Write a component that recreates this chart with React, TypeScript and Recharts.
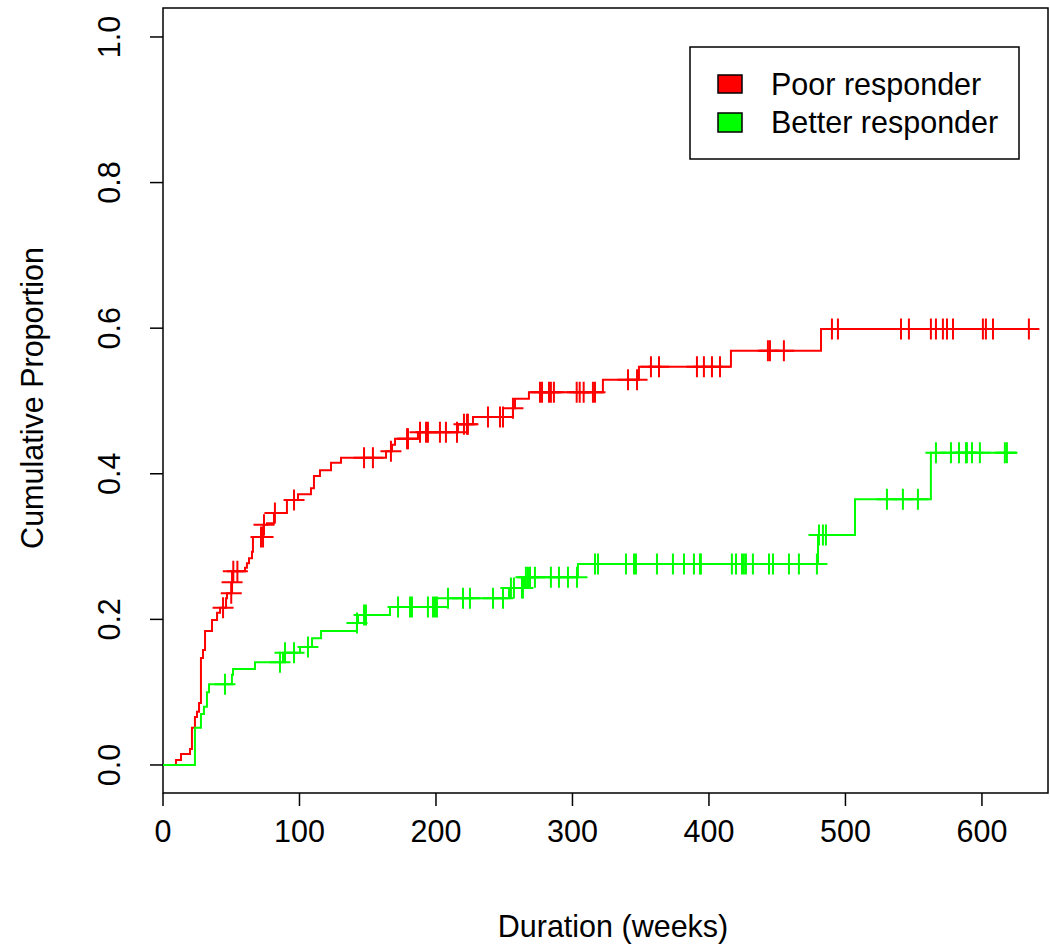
import { ComposedChart, Line, Scatter, XAxis, YAxis, ReferenceArea, Label } from "recharts"

// Kaplan-Meier style cumulative curves
const xTicks = [0, 100, 200, 300, 400, 500, 600]
const yTicks = [0, 0.2, 0.4, 0.6, 0.8, 1.0]

const poorStepTimes = [
  0, 9.5, 13.2, 19.8, 21.2, 23.4, 24.9, 26.4, 27.8, 29.3, 30.8, 35.9, 39.6, 41.8, 46.2, 46.9, 50.3,
  51.0, 60.1, 61.5, 63.0, 65.2, 65.9, 73.6, 76.2, 81.3, 90.8, 98.9, 108.4, 110.6, 115.0, 123.1,
  130.4, 163.4, 167.8, 170.0, 186.8, 216.1, 227.1, 256.4, 257.9, 268.1, 322.3, 348.7, 416.1, 482.1,
  641.8,
]
const poorStepValues = [
  0, 0.007, 0.015, 0.022, 0.051, 0.066, 0.073, 0.085, 0.147, 0.158, 0.184, 0.199, 0.209, 0.216,
  0.229, 0.236, 0.251, 0.266, 0.271, 0.277, 0.284, 0.293, 0.313, 0.33, 0.332, 0.346, 0.364, 0.372,
  0.38, 0.397, 0.405, 0.415, 0.422, 0.431, 0.44, 0.448, 0.457, 0.468, 0.478, 0.49, 0.503, 0.512,
  0.529, 0.547, 0.569, 0.599, 0.599,
]
const poorCensored = [
  44.0, 50.0, 50.6, 51.5, 54.5, 71.8, 73.3, 74.0, 82.0, 96.0, 147.3, 153.8, 167.0, 178.8, 179.5,
  188.3, 192.7, 194.1, 202.9, 207.3, 215.4, 220.5, 222.7, 223.4, 238.1, 246.9, 249.1, 256.4, 276.2,
  277.7, 282.8, 284.2, 286.4, 303.1, 305.3, 308.2, 315.0, 316.5, 340.7, 347.3, 357.5, 363.4, 391.2,
  396.3, 402.2, 408.1, 443.2, 444.7, 454.9, 490.1, 494.5, 540.7, 546.5, 562.6, 566.3, 571.4, 574.4,
  578.8, 600.7, 602.9, 608.1, 634.4,
]

const betterStepTimes = [
  0, 23.4, 27.8, 30.0, 32.2, 33.7, 50.5, 51.3, 67.4, 87.9, 100.4, 109.2, 115.8, 142.1, 142.9, 166.3,
  208.8, 253.5, 264.5, 304.0, 479.9, 507.0, 562.6, 625.6,
]
const betterStepValues = [
  0, 0.051, 0.07, 0.08, 0.1, 0.111, 0.124, 0.132, 0.141, 0.154, 0.162, 0.174, 0.184, 0.195, 0.206,
  0.217, 0.229, 0.243, 0.258, 0.276, 0.316, 0.365, 0.429, 0.429,
]
const betterCensored = [
  45.4, 85.7, 89.4, 96.0, 106.2, 142.1, 147.3, 148.7, 172.2, 181.0, 182.4, 194.1, 197.8, 199.3,
  200.7, 208.8, 219.8, 224.9, 241.8, 249.1, 254.9, 257.1, 263.0, 263.7, 265.9, 267.4, 268.9, 272.5,
  284.2, 290.1, 296.7, 303.3, 316.5, 318.7, 339.2, 345.1, 346.5, 361.9, 373.6, 381.7, 389.0, 393.4,
  394.1, 416.8, 419.8, 424.2, 425.6, 427.1, 432.2, 444.0, 446.9, 458.6, 465.9, 479.1, 480.6, 483.5,
  485.7, 530.4, 542.1, 553.1, 566.3, 577.3, 583.2, 588.3, 589.0, 592.7, 598.5, 616.8, 618.3,
]

const RED = "#ff0000"
const GREEN = "#00ff00"
const FONT = '"Liberation Sans", Arial, Helvetica, sans-serif'
const FS = 30.5
const X_DOMAIN: [number, number] = [0, 648.4]
const Y_DOMAIN: [number, number] = [-0.0385, 1.0398]

const toSteps = (times: number[], values: number[]) =>
  times.map((t, i) => ({ t, v: values[i] }))

// censor marks sit on the curve at their time
const valueAt = (times: number[], values: number[], t: number) => {
  let v = values[0]
  for (let i = 0; i < times.length; i++) if (times[i] <= t) v = values[i]
  return v
}
const toMarks = (cens: number[], times: number[], values: number[]) =>
  cens.map((t) => ({ t, v: valueAt(times, values, t) }))

const poorLine = toSteps(poorStepTimes, poorStepValues)
const betterLine = toSteps(betterStepTimes, betterStepValues)
const poorMarks = toMarks(poorCensored, poorStepTimes, poorStepValues)
const betterMarks = toMarks(betterCensored, betterStepTimes, betterStepValues)

const plus = (color: string) => (p: any) => (
  <path
    d={`M${p.cx - 10.5},${p.cy}h21M${p.cx},${p.cy - 10.5}v21`}
    stroke={color}
    strokeWidth={2}
    fill="none"
  />
)

const XTick = ({ x, payload }: any) => (
  <text x={x} y={842} textAnchor="middle" fontSize={FS} fontFamily={FONT} fill="#000">
    {payload.value}
  </text>
)

const YTick = ({ y, payload }: any) => (
  <text
    x={120}
    y={y}
    transform={`rotate(-90 120 ${y})`}
    textAnchor="middle"
    fontSize={FS}
    fontFamily={FONT}
    fill="#000"
  >
    {Number(payload.value).toFixed(1)}
  </text>
)

export default function App() {
  return (
    <div
      style={{
        position: "fixed",
        left: 0,
        top: 0,
        width: 1050,
        height: 950,
        background: "#fff",
      }}
    >
      <ComposedChart
        width={1050}
        height={950}
        margin={{ top: 8, right: 2, bottom: 97, left: 103 }}
      >
        <XAxis
          type="number"
          dataKey="t"
          domain={X_DOMAIN}
          ticks={xTicks}
          allowDataOverflow
          height={60}
          axisLine={false}
          tickSize={13}
          tickLine={{ stroke: "#000", strokeWidth: 1.5 }}
          tick={XTick}
          label={
            <Label
              content={() => (
                <text x={613} y={937} textAnchor="middle" fontSize={FS} fontFamily={FONT} fill="#000">
                  Duration (weeks)
                </text>
              )}
            />
          }
        />
        <YAxis
          type="number"
          dataKey="v"
          domain={Y_DOMAIN}
          ticks={yTicks}
          allowDataOverflow
          width={60}
          axisLine={false}
          tickSize={13}
          tickLine={{ stroke: "#000", strokeWidth: 1.5 }}
          tick={YTick}
          label={
            <Label
              content={() => (
                <text
                  x={43}
                  y={398}
                  transform="rotate(-90 43 398)"
                  textAnchor="middle"
                  fontSize={FS}
                  fontFamily={FONT}
                  fill="#000"
                >
                  Cumulative Proportion
                </text>
              )}
            />
          }
        />
        <ReferenceArea
          x1={X_DOMAIN[0]}
          x2={X_DOMAIN[1]}
          y1={Y_DOMAIN[0]}
          y2={Y_DOMAIN[1]}
          fill="none"
          fillOpacity={0}
          stroke="#000"
          strokeWidth={1.5}
          ifOverflow="visible"
        />
        <Line
          data={poorLine}
          dataKey="v"
          type="stepAfter"
          stroke={RED}
          strokeWidth={2}
          dot={false}
          isAnimationActive={false}
        />
        <Line
          data={betterLine}
          dataKey="v"
          type="stepAfter"
          stroke={GREEN}
          strokeWidth={2}
          dot={false}
          isAnimationActive={false}
        />
        <Scatter data={poorMarks} dataKey="v" shape={plus(RED)} isAnimationActive={false} />
        <Scatter data={betterMarks} dataKey="v" shape={plus(GREEN)} isAnimationActive={false} />
      </ComposedChart>

      <svg
        width={331}
        height={114}
        style={{ position: "absolute", left: 689, top: 46 }}
        fontFamily={FONT}
      >
        <rect x={1} y={1} width={329} height={112} fill="#fff" stroke="#000" strokeWidth={1.5} />
        <rect x={29} y={29} width={24} height={18} fill={RED} stroke="#000" strokeWidth={1.5} />
        <rect x={29} y={67} width={24} height={19} fill={GREEN} stroke="#000" strokeWidth={1.5} />
        <text x={82} y={49} fontSize={FS} fill="#000">
          Poor responder
        </text>
        <text x={82} y={87} fontSize={FS} fill="#000">
          Better responder
        </text>
      </svg>
    </div>
  )
}
